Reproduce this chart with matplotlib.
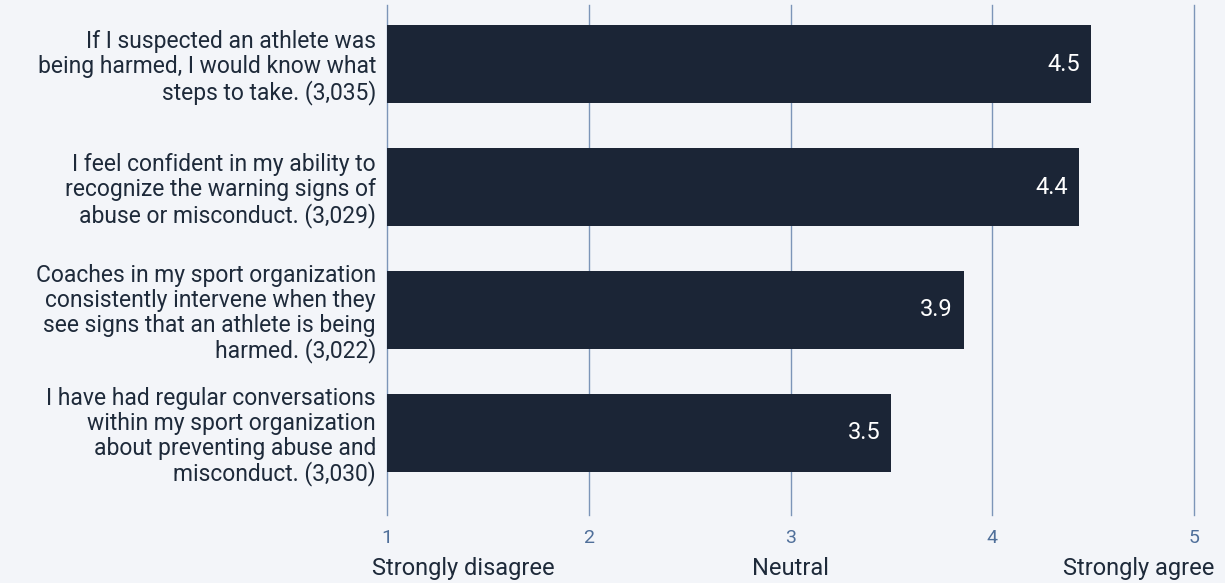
import matplotlib.pyplot as plt
plt.switch_backend('agg')

# Survey statements (with number of responses) and mean agreement score
statements = ['If I suspected an athlete was\nbeing harmed, I would know what\nsteps to take. (3,035)',
              'I feel confident in my ability to\nrecognize the warning signs of\nabuse or misconduct. (3,029)',
              'Coaches in my sport organization\nconsistently intervene when they\nsee signs that an athlete is being\nharmed. (3,022)',
              'I have had regular conversations\nwithin my sport organization\nabout preventing abuse and\nmisconduct. (3,030)']
scores = [4.49, 4.43, 3.86, 3.50]
score_labels = ['4.5', '4.4', '3.9', '3.5']
scale_ticks = [1, 2, 3, 4, 5]
scale_names = ['Strongly disagree', 'Neutral', 'Strongly agree']

bg = '#F3F5F9'
bar_col = '#1B2536'
grid_col = '#7C95B8'
tick_col = '#4F6F9A'
text_col = '#1E2A3A'

plt.rcParams['font.family'] = ['Roboto', 'DejaVu Sans']

fig = plt.figure(figsize=(12.25, 5.83), dpi=100, facecolor=bg)
ax = fig.add_axes([387 / 1225, 1 - 515 / 583, 807 / 1225, 510 / 583])
ax.set_facecolor(bg)

pos = list(range(len(statements)))
# bars start at 1 (bottom of the scale)
ax.barh(pos, [s - 1 for s in scores], left=1, height=0.634, color=bar_col, zorder=3)

for p, s, lab in zip(pos, scores, score_labels):
    ax.text(s - 0.055, p, lab, color='white', fontsize=17, ha='right', va='center', zorder=4)

ax.set_xlim(1, 5)
ax.set_ylim(3.667, -0.48)
ax.set_xticks(scale_ticks)
ax.set_xticklabels([str(t) for t in scale_ticks], color=tick_col, fontsize=14)
ax.tick_params(axis='x', length=0, pad=10)
ax.set_yticks(pos)
ax.set_yticklabels(statements, fontsize=16.5, color=text_col, linespacing=1.1)
ax.tick_params(axis='y', length=0, pad=8)

for t in scale_ticks:
    ax.axvline(t, color=grid_col, linewidth=1, zorder=1, clip_on=False)
for side in ['top', 'right', 'bottom', 'left']:
    ax.spines[side].set_visible(False)

# scale anchor names under the tick numbers
for x, name in zip([1.38, 3, 4.725], scale_names):
    ax.text(x, -0.105, name, transform=ax.get_xaxis_transform(), fontsize=17,
            color=text_col, ha='center', va='center')

plt.savefig('out.png', dpi=100, facecolor=bg)
